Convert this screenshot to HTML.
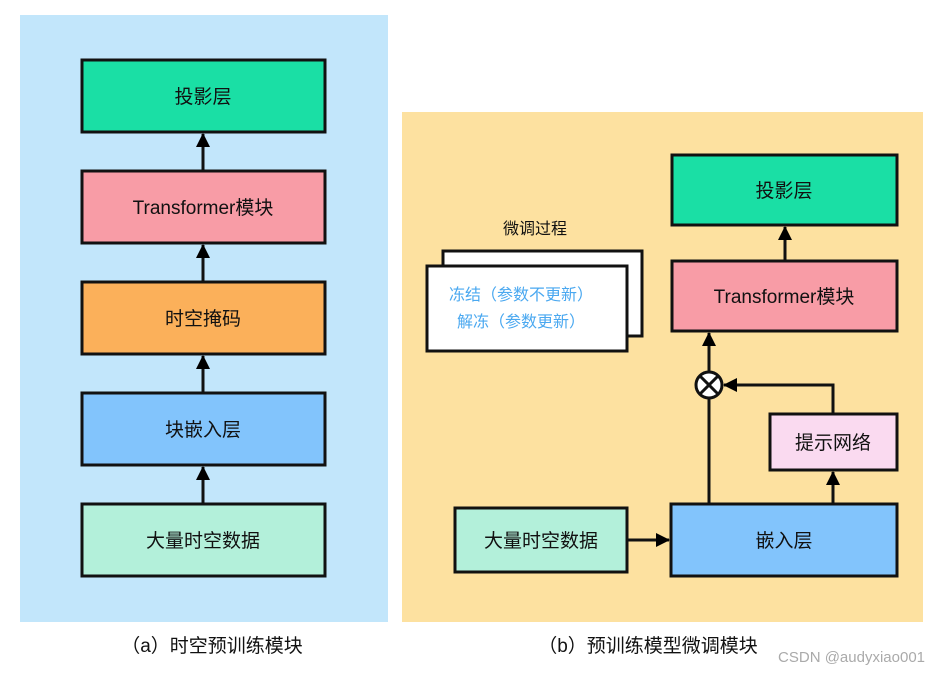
<!DOCTYPE html>
<html><head><meta charset="utf-8"><style>
body{margin:0;background:#fff;}
text{font-family:"Liberation Sans","Noto Sans CJK SC",sans-serif;fill:#111;}
</style></head><body>
<svg width="930" height="671" viewBox="0 0 930 671" xmlns="http://www.w3.org/2000/svg">
<defs><marker id="a" markerWidth="8" markerHeight="8" refX="6" refY="4" orient="auto" markerUnits="userSpaceOnUse" viewBox="0 0 8 8"><path d="M0,0 L8,4 L0,8 z" fill="#000"/></marker>
<marker id="b" markerWidth="14" markerHeight="14" refX="13" refY="7" orient="auto" markerUnits="userSpaceOnUse"><path d="M0,0 L14,7 L0,14 z" fill="#000"/></marker></defs>
<rect x="20" y="15" width="368" height="607" fill="#c2e6fb"/>
<rect x="402" y="112" width="521" height="510" fill="#fde1a0"/>
<g stroke="#111" stroke-width="3">
<rect x="82" y="60" width="243" height="72" fill="#1adfa5"/>
<rect x="82" y="171" width="243" height="72" fill="#f89ca6"/>
<rect x="82" y="282" width="243" height="72" fill="#fbb05a"/>
<rect x="82" y="393" width="243" height="72" fill="#82c4fc"/>
<rect x="82" y="504" width="243" height="72" fill="#b3f0da"/>
<line x1="203" y1="171" x2="203" y2="134" marker-end="url(#b)"/>
<line x1="203" y1="282" x2="203" y2="245" marker-end="url(#b)"/>
<line x1="203" y1="393" x2="203" y2="356" marker-end="url(#b)"/>
<line x1="203" y1="504" x2="203" y2="467" marker-end="url(#b)"/>
<rect x="672" y="155" width="225" height="70" fill="#1adfa5"/>
<rect x="672" y="261" width="225" height="70" fill="#f89ca6"/>
<rect x="770" y="414" width="127" height="56" fill="#fadaf0"/>
<rect x="671" y="504" width="226" height="72" fill="#82c4fc"/>
<rect x="455" y="508" width="172" height="64" fill="#b3f0da"/>
<rect x="443" y="251" width="199" height="85" fill="#fff"/>
<rect x="427" y="266" width="200" height="85" fill="#fff"/>
<line x1="785" y1="261" x2="785" y2="227" marker-end="url(#b)"/>
<line x1="709" y1="372" x2="709" y2="333" marker-end="url(#b)"/>
<line x1="709" y1="504" x2="709" y2="398"/>
<polyline points="833,414 833,385 724,385" fill="none" marker-end="url(#b)"/>
<line x1="833" y1="504" x2="833" y2="472" marker-end="url(#b)"/>
<line x1="627" y1="540" x2="669" y2="540" marker-end="url(#b)"/>
<circle cx="709" cy="385" r="13" fill="#fff"/>
<line x1="700" y1="376" x2="718" y2="394"/><line x1="718" y1="376" x2="700" y2="394"/>
</g>
<g font-size="19" text-anchor="middle">
<text x="203" y="103">投影层</text>
<text x="203" y="214">Transformer模块</text>
<text x="203" y="325">时空掩码</text>
<text x="203" y="436">块嵌入层</text>
<text x="203" y="547">大量时空数据</text>
<text x="784" y="197">投影层</text>
<text x="784" y="303">Transformer模块</text>
<text x="833" y="449">提示网络</text>
<text x="784" y="547">嵌入层</text>
<text x="541" y="547">大量时空数据</text>
</g>
<text x="535" y="234" font-size="16" text-anchor="middle">微调过程</text>
<text x="521" y="300" font-size="16" text-anchor="middle" style="fill:#4aa8f0">冻结（参数不更新）</text>
<text x="521" y="327" font-size="16" text-anchor="middle" style="fill:#4aa8f0">解冻（参数更新）</text>
<text x="212" y="652" font-size="19" text-anchor="middle">（a）时空预训练模块</text>
<text x="648" y="652" font-size="19" text-anchor="middle">（b）预训练模型微调模块</text>
<text x="925" y="662" font-size="15" text-anchor="end" style="fill:#aaa">CSDN @audyxiao001</text>
</svg>
</body></html>
